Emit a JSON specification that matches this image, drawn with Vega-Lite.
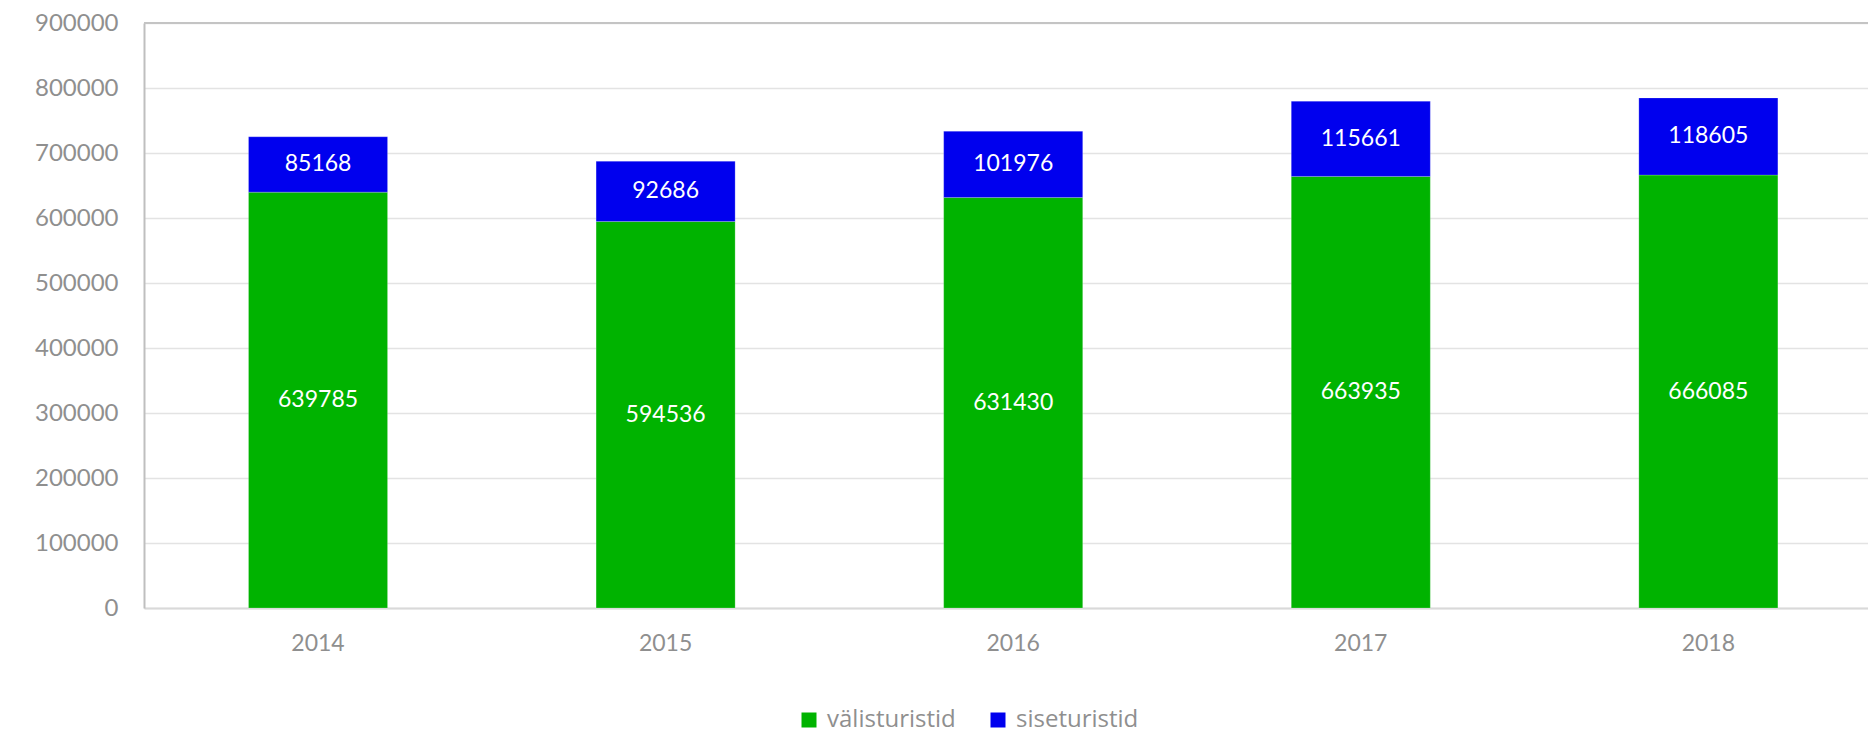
{
  "$schema": "https://vega.github.io/schema/vega-lite/v6.json",
  "autosize": "none",
  "width": 1724,
  "height": 585,
  "padding": {"left": 144, "top": 23, "right": 0, "bottom": 125},
  "background": "white",
  "config": {
    "view": {"stroke": null},
    "font": "Lato"
  },
  "data": {
    "values": [
      {"year": "2014", "series": "välisturistid", "value": 639785},
      {"year": "2014", "series": "siseturistid", "value": 85168},
      {"year": "2015", "series": "välisturistid", "value": 594536},
      {"year": "2015", "series": "siseturistid", "value": 92686},
      {"year": "2016", "series": "välisturistid", "value": 631430},
      {"year": "2016", "series": "siseturistid", "value": 101976},
      {"year": "2017", "series": "välisturistid", "value": 663935},
      {"year": "2017", "series": "siseturistid", "value": 115661},
      {"year": "2018", "series": "välisturistid", "value": 666085},
      {"year": "2018", "series": "siseturistid", "value": 118605}
    ]
  },
  "layer": [
    {
      "mark": {"type": "bar", "stroke": "#ffffff", "strokeWidth": 0.5, "strokeOpacity": 0.4},
      "encoding": {
        "x": {
          "field": "year",
          "type": "ordinal",
          "scale": {"paddingInner": 0.6, "paddingOuter": 0.28, "align": 0.537},
          "axis": {
            "title": null,
            "labelAngle": 0,
            "ticks": false,
            "labelPadding": 24,
            "labelFontSize": 23,
            "labelColor": "#8f8f8f",
            "labelFont": "Lato",
            "domainColor": "#d9d9d9",
            "domainWidth": 2,
            "grid": false
          }
        },
        "y": {
          "field": "value",
          "type": "quantitative",
          "stack": "zero",
          "scale": {"domain": [0, 900000], "nice": false},
          "axis": {
            "title": null,
            "values": [0, 100000, 200000, 300000, 400000, 500000, 600000, 700000, 800000, 900000],
            "format": "d",
            "ticks": false,
            "labelPadding": 26,
            "labelFontSize": 24,
            "labelColor": "#8f8f8f",
            "labelFont": "Lato",
            "domainColor": "#bfbfbf",
            "domainWidth": 2,
            "gridColor": "#e3e3e3",
            "gridWidth": 1.5
          }
        },
        "color": {
          "field": "series",
          "type": "nominal",
          "scale": {"domain": ["välisturistid", "siseturistid"], "range": ["#00b300", "#0000ee"]},
          "legend": {
            "title": null,
            "orient": "none",
            "direction": "horizontal",
            "legendX": 653,
            "legendY": 685,
            "symbolType": "square",
            "symbolSize": 225,
            "symbolStrokeWidth": 0,
            "symbolOpacity": 1,
            "labelFontSize": 24,
            "labelFont": "Open Sans",
            "labelColor": "#8f8f8f",
            "labelOffset": 6,
            "columnPadding": 30
          }
        },
        "order": {"field": "series", "sort": "descending"}
      }
    },
    {
      "mark": {"type": "text", "color": "white", "fontSize": 23, "font": "Lato", "baseline": "middle", "align": "center"},
      "encoding": {
        "x": {"field": "year", "type": "ordinal"},
        "y": {"field": "value", "type": "quantitative", "stack": "zero", "bandPosition": 0.5},
        "text": {"field": "value", "type": "quantitative", "format": "d"},
        "detail": {"field": "series"},
        "order": {"field": "series", "sort": "descending"}
      }
    },
    {
      "mark": {"type": "rule", "color": "#c4c4c4", "strokeWidth": 2},
      "encoding": {"y": {"datum": 900000}}
    }
  ]
}
